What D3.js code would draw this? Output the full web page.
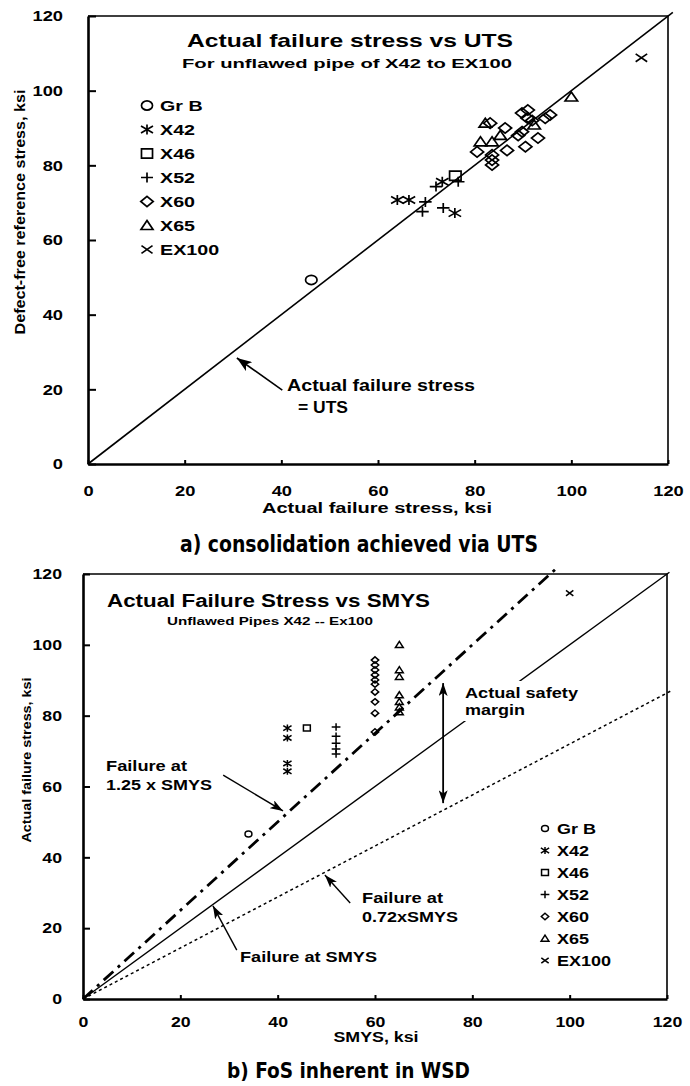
<!DOCTYPE html>
<html><head><meta charset="utf-8">
<script src="https://cdn.jsdelivr.net/npm/d3@7"></script>
<style>
html,body{margin:0;padding:0;background:#fff;}
svg{display:block;}
text{font-family:"Liberation Sans",Arial,Helvetica,sans-serif;font-weight:bold;fill:#000;}
.caption{font-family:"Liberation Sans Narrow","DejaVu Sans Condensed","Liberation Sans",sans-serif;font-weight:bold;}
</style></head><body>
<svg id="chart" width="690" height="1086"></svg>
<script>
// ---- data ----
const grades = ["Gr B", "X42", "X46", "X52", "X60", "X65", "EX100"];
const shapes = ["circle", "asterisk", "square", "plus", "diamond", "triangle", "cross"];
const tickValues = [0, 20, 40, 60, 80, 100, 120];

// (a) actual failure stress (ksi) vs defect-free reference stress (ksi)
const aGrB = [[46.2, 49.3]];
const aX42 = [[64.0, 70.7], [66.4, 70.7], [73.3, 75.6], [75.9, 67.2]];
const aX46 = [[76.0, 77.2]];
const aX52 = [[72.0, 74.3], [69.8, 70.2], [69.2, 67.6], [73.5, 68.6], [76.6, 75.6]];
const aX60 = [[83.2, 91.3], [86.3, 90.0], [80.5, 83.6], [83.6, 82.8], [83.6, 81.4], [83.6, 80.1],
              [86.7, 84.0], [90.5, 85.0], [93.1, 87.3], [89.0, 88.0], [89.8, 89.0], [91.9, 92.0],
              [94.6, 92.6], [95.6, 93.5], [89.8, 94.0], [91.0, 94.8], [90.9, 92.7]];
const aX65 = [[82.2, 91.3], [85.3, 88.0], [81.2, 86.3], [83.6, 86.3], [92.3, 90.8], [100.0, 98.3]];
const aEX100 = [[114.5, 108.8]];
const utsLine = [0, 121];

// (b) SMYS (ksi) vs actual failure stress (ksi)
const bGrB = [[34, 46.6]];
const bX42 = [[42, 76.5], [42, 73.7], [42, 66.5], [42, 64.3]];
const bX46 = [[46, 76.5]];
const bX52 = [[52, 76.8], [52, 74.2], [52, 72.2], [52, 70.6], [52, 69.2]];
const bX60 = [[60, 95.7], [60, 94.3], [60, 92.9], [60, 91.5], [60, 90.1], [60, 88.9],
              [60, 86.7], [60, 83.9], [60, 80.7], [60, 75.4]];
const bX65 = [[65, 100.0], [65, 92.9], [65, 91.0], [65, 85.8], [65, 83.9], [65, 82.4], [65, 81.0]];
const bEX100 = [[100, 114.6]];
const fosFactors = [1.25, 1.0, 0.72];
const fosEnds = [97, 120.5, 121];

const seriesA = [aGrB, aX42, aX46, aX52, aX60, aX65, aEX100];
const seriesB = [bGrB, bX42, bX46, bX52, bX60, bX65, bEX100];

// ---- helpers ----
const svg = d3.select("#chart");

function fitText(sel, w) {
  return sel.attr("textLength", w).attr("lengthAdjust", "spacingAndGlyphs");
}
function widen(sel, f) {
  sel.each(function () {
    const L = this.getComputedTextLength();
    d3.select(this).attr("textLength", L * f).attr("lengthAdjust", "spacingAndGlyphs");
  });
}
function shapePath(kind, r) {
  switch (kind) {
    case "circle": return `M${r},0A${r},${r} 0 1,1 ${-r},0A${r},${r} 0 1,1 ${r},0Z`;
    case "square": return `M${-r},${-r}H${r}V${r}H${-r}Z`;
    case "diamond": return `M0,${-r}L${r},0L0,${r}L${-r},0Z`;
    case "triangle": return `M0,${-r}L${r},${r * 0.8}H${-r}Z`;
    case "plus": return `M${-r},0H${r}M0,${-r}V${r}`;
    case "cross": return `M${-r},${-r * 0.85}L${r},${r * 0.85}M${r},${-r * 0.85}L${-r},${r * 0.85}`;
    case "asterisk": return `M${-r},${-r * 0.7}L${r},${r * 0.7}M${r},${-r * 0.7}L${-r},${r * 0.7}M0,${-r}V${r}`;
  }
}
function mark(g, pts, kind, x, y, r, sx, sw) {
  g.selectAll(null).data(pts).join("path")
    .attr("d", shapePath(kind, r))
    .attr("transform", d => `translate(${x(d[0])},${y(d[1])}) scale(${sx},1)`)
    .attr("fill", "none").attr("stroke", "#000")
    .attr("stroke-width", sw).attr("vector-effect", "non-scaling-stroke");
}
function addText(g, str, x, y, size, w, anchor) {
  const t = g.append("text").attr("x", x).attr("y", y)
    .attr("font-size", size).attr("text-anchor", anchor || "start").text(str);
  if (w) fitText(t, w);
  return t;
}

// arrowheads
const defs = svg.append("defs");
function arrowMarker(id, len, wid, orient) {
  defs.append("marker").attr("id", id)
    .attr("viewBox", `0 0 ${len} ${wid}`).attr("refX", len).attr("refY", wid / 2)
    .attr("markerWidth", len).attr("markerHeight", wid)
    .attr("markerUnits", "userSpaceOnUse").attr("orient", orient)
    .append("path").attr("d", `M0,0L${len},${wid / 2}L0,${wid}L${len * 0.25},${wid / 2}Z`).attr("fill", "#000");
}
arrowMarker("headBig", 15, 11, "auto");
arrowMarker("head", 13, 9, "auto");
arrowMarker("headStart", 13, 9, "auto-start-reverse");

function frame(cfg) {
  const x = d3.scaleLinear().domain([0, 120]).range([cfg.left, cfg.right]);
  const y = d3.scaleLinear().domain([0, 120]).range([cfg.bottom, cfg.top]);
  const g = svg.append("g");
  g.append("path")
    .attr("d", `M${cfg.left},${cfg.top}H${cfg.right}V${cfg.bottom}`)
    .attr("fill", "none").attr("stroke", "#000").attr("stroke-width", 1.6);

  const gx = g.append("g").attr("transform", `translate(0,${cfg.bottom})`)
    .call(d3.axisBottom(x).tickValues(tickValues).tickSizeInner(-cfg.xTick).tickSizeOuter(0)
      .tickPadding(cfg.xPad).tickFormat(d3.format("d")))
    .attr("font-size", cfg.tickFont);
  const gy = g.append("g").attr("transform", `translate(${cfg.left},0)`)
    .call(d3.axisLeft(y).tickValues(tickValues).tickSizeInner(-cfg.yTick).tickSizeOuter(0)
      .tickPadding(cfg.yPad).tickFormat(d3.format("d")))
    .attr("font-size", cfg.tickFont);
  [gx, gy].forEach(a => {
    a.select(".domain").attr("stroke-width", 2.6);
    a.selectAll(".tick line").attr("stroke-width", 2);
    widen(a.selectAll(".tick text"), 1.18);
  });
  return { g, x, y };
}

// ================= (a) =================
const A = frame({ left: 88, right: 668, top: 16, bottom: 464, xTick: 4, yTick: 8, xPad: 21, yPad: 25, tickFont: 15.5 });

A.g.append("line")
  .attr("x1", A.x(utsLine[0])).attr("y1", A.y(utsLine[0]))
  .attr("x2", A.x(utsLine[1])).attr("y2", A.y(utsLine[1]))
  .attr("stroke", "#000").attr("stroke-width", 1.6);

const sizeA = { circle: 4.6, asterisk: 5, square: 4.6, plus: 5, diamond: 5.2, triangle: 5, cross: 4.6 };
seriesA.forEach((pts, i) => mark(A.g, pts, shapes[i], A.x, A.y, sizeA[shapes[i]], 1.25, 1.7));

addText(A.g, "Actual failure stress vs UTS", 350, 47, 19, 326, "middle");
addText(A.g, "For unflawed pipe of X42 to EX100", 347, 68, 13, 330, "middle");

// legend (a)
grades.forEach((name, i) => {
  const by = 111 + 24 * i;
  mark(A.g, [[0, 0]], shapes[i], () => 147, () => by - 5.5, sizeA[shapes[i]], 1.2, 1.7);
  const t = addText(A.g, name, 160, by, 15.5);
  widen(t, 1.27);
});

// annotation (a)
A.g.append("line")
  .attr("x1", A.x(40.2)).attr("y1", A.y(19.8)).attr("x2", A.x(30.8)).attr("y2", A.y(28.4))
  .attr("stroke", "#000").attr("stroke-width", 1.6).attr("marker-end", "url(#headBig)");
addText(A.g, "Actual failure stress", 287, 391, 16, 188);
addText(A.g, "= UTS", 298, 413, 16, 50);

// axis titles (a)
addText(A.g, "Actual failure stress, ksi", 377, 513, 14.5, 230, "middle");
addText(A.g, "Defect-free reference stress, ksi", 0, 0, 14.5, 245, "middle")
  .attr("transform", "translate(25,212) rotate(-90)");
addText(A.g, "a) consolidation achieved via UTS", 359, 552, 23, 358, "middle").attr("class", "caption");

// ================= (b) =================
const B = frame({ left: 83, right: 667, top: 574, bottom: 999, xTick: 4, yTick: 7, xPad: 17, yPad: 21, tickFont: 15 });

// reference lines: 1.25 x SMYS, SMYS, 0.72 x SMYS
const lineStyles = [
  { w: 2.8, dash: "13,6,3,6" },
  { w: 1.4, dash: null },
  { w: 1.5, dash: "3,3" }
];
fosFactors.forEach((f, i) => {
  B.g.append("line")
    .attr("x1", B.x(0)).attr("y1", B.y(0))
    .attr("x2", B.x(fosEnds[i])).attr("y2", B.y(f * fosEnds[i]))
    .attr("stroke", "#000").attr("stroke-width", lineStyles[i].w)
    .attr("stroke-dasharray", lineStyles[i].dash);
});

const sizeB = { circle: 3, asterisk: 3.6, square: 3, plus: 3.8, diamond: 3.2, triangle: 3.4, cross: 3.2 };
seriesB.forEach((pts, i) => mark(B.g, pts, shapes[i], B.x, B.y, sizeB[shapes[i]], 1.15, 1.5));

addText(B.g, "Actual Failure Stress vs SMYS", 268.5, 607, 17.5, 323, "middle");
addText(B.g, "Unflawed Pipes X42 -- Ex100", 270, 625, 11, 206, "middle");

// legend (b)
grades.forEach((name, i) => {
  const by = 834 + 22 * i;
  mark(B.g, [[0, 0]], shapes[i], () => 545, () => by - 5.5, sizeB[shapes[i]], 1.15, 1.5);
  const t = addText(B.g, name, 557, by, 15);
  widen(t, 1.2);
});

// annotations (b)
B.g.append("line")
  .attr("x1", B.x(28.8)).attr("y1", B.y(63.2)).attr("x2", B.x(41.1)).attr("y2", B.y(53.1))
  .attr("stroke", "#000").attr("stroke-width", 1.4).attr("marker-end", "url(#head)");
addText(B.g, "Failure at", 106, 771, 15, 81);
addText(B.g, "1.25 x SMYS", 106, 790, 15, 106);

const marginG = B.g.append("g");
const m1 = addText(marginG, "Actual safety", 465, 698, 15.5, 113);
const m2 = addText(marginG, "margin", 465, 715, 15.5, 60);
const bb1 = m1.node().getBBox(), bb2 = m2.node().getBBox();
marginG.insert("rect", "text")
  .attr("x", bb1.x - 6).attr("y", bb1.y - 3)
  .attr("width", Math.max(bb1.width, bb2.width) + 10)
  .attr("height", bb2.y + bb2.height - bb1.y + 6)
  .attr("fill", "#fff");
B.g.append("line")
  .attr("x1", B.x(74)).attr("y1", B.y(89.2)).attr("x2", B.x(74)).attr("y2", B.y(55.3))
  .attr("stroke", "#000").attr("stroke-width", 1.8)
  .attr("marker-start", "url(#headStart)").attr("marker-end", "url(#head)");

B.g.append("line")
  .attr("x1", B.x(54.9)).attr("y1", B.y(27.1)).attr("x2", B.x(49.7)).attr("y2", B.y(35.0))
  .attr("stroke", "#000").attr("stroke-width", 1.4).attr("marker-end", "url(#head)");
addText(B.g, "Failure at", 362, 903, 15, 81);
addText(B.g, "0.72xSMYS", 362, 922, 15, 96);

B.g.append("line")
  .attr("x1", B.x(31.6)).attr("y1", B.y(13.8)).attr("x2", B.x(26.7)).attr("y2", B.y(26.3))
  .attr("stroke", "#000").attr("stroke-width", 1.4).attr("marker-end", "url(#head)");
addText(B.g, "Failure at SMYS", 240, 962, 15, 137);

// axis titles (b)
addText(B.g, "SMYS, ksi", 376, 1042, 14, 85, "middle");
addText(B.g, "Actual failure stress, ksi", 0, 0, 13, 165, "middle")
  .attr("transform", "translate(31,760) rotate(-90)");
addText(B.g, "b) FoS inherent in WSD", 348.5, 1078, 22, 243, "middle").attr("class", "caption");
</script>
</body></html>
